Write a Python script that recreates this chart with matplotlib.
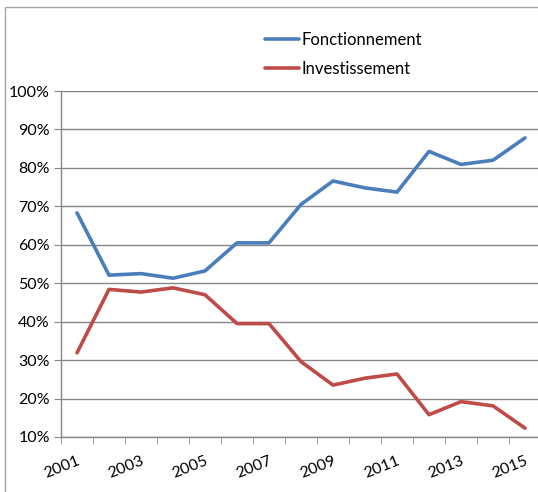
import numpy as np
import matplotlib.pyplot as plt
from matplotlib.patches import Rectangle
from matplotlib.ticker import FixedLocator, PercentFormatter

years = list(range(2001, 2016))
fonctionnement = [68.3, 52.1, 52.5, 51.3, 53.2, 60.5, 60.5, 70.5, 76.6, 74.8, 73.7, 84.3, 80.9, 82.0, 87.8]
investissement = [31.9, 48.4, 47.7, 48.8, 47.0, 39.5, 39.5, 29.6, 23.5, 25.3, 26.4, 15.8, 19.2, 18.1, 12.3]

plt.rcParams['font.family'] = ['Lato', 'DejaVu Sans']

fig = plt.figure(figsize=(5.38, 4.92), dpi=100)
fig.patches.append(Rectangle((0.0093, -0.1), 1.2, 0.1 + 0.9858, transform=fig.transFigure,
                             fill=False, edgecolor='#a6a6a6', lw=1.0))

ax = fig.add_axes([0.1134, 0.1118, 0.8922, 0.7032])
x = np.arange(len(years))
ax.plot(x, fonctionnement, color='#4a7ebb', lw=2.6, label='Fonctionnement', solid_capstyle='round')
ax.plot(x, investissement, color='#be4b48', lw=2.6, label='Investissement', solid_capstyle='round')

ax.set_xlim(-0.5, len(years) - 0.5)
ax.set_ylim(10, 100)
ax.set_yticks(np.arange(10, 101, 10))
ax.yaxis.set_major_formatter(PercentFormatter(decimals=0))
ax.grid(axis='y', color='#868686', lw=1.0)
ax.set_axisbelow(True)

ax.set_xticks(x[::2])
ax.set_xticklabels([str(y) for y in years[::2]], rotation=22, ha='right', rotation_mode='anchor')
ax.xaxis.set_minor_locator(FixedLocator(np.arange(-0.5, len(years), 1)))
ax.tick_params(axis='x', which='major', length=0, pad=12, labelsize=11.5)
ax.tick_params(axis='x', which='minor', length=5, color='#868686', direction='out')
ax.tick_params(axis='y', length=5, color='#868686', labelsize=11.5, pad=3)

for s in ['top', 'right']:
    ax.spines[s].set_visible(False)
for s in ['left', 'bottom']:
    ax.spines[s].set_color('#868686')
    ax.spines[s].set_linewidth(1.0)

fig.legend(loc='upper left', bbox_to_anchor=(0.465, 0.965), frameon=False, fontsize=12,
           handlelength=2.0, handletextpad=0.15, labelspacing=0.75)

fig.savefig('out.png', dpi=100)
